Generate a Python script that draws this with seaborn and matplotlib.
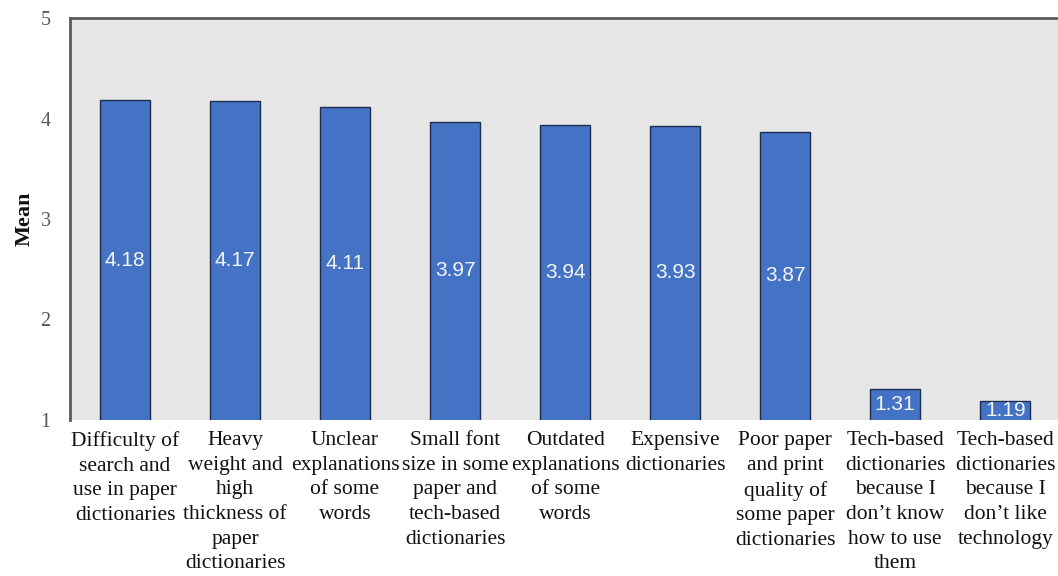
import matplotlib
matplotlib.use("Agg")
import matplotlib.pyplot as plt
import seaborn as sns
import pandas as pd

# Problems reported with dictionaries: category labels and mean ratings
categories = [
    "Difficulty of\nsearch and\nuse in paper\ndictionaries",
    "Heavy\nweight and\nhigh\nthickness of\npaper\ndictionaries",
    "Unclear\nexplanations\nof some\nwords",
    "Small font\nsize in some\npaper and\ntech-based\ndictionaries",
    "Outdated\nexplanations\nof some\nwords",
    "Expensive\ndictionaries",
    "Poor paper\nand print\nquality of\nsome paper\ndictionaries",
    "Tech-based\ndictionaries\nbecause I\ndon\u2019t know\nhow to use\nthem",
    "Tech-based\ndictionaries\nbecause I\ndon\u2019t like\ntechnology",
]
means = [4.18, 4.17, 4.11, 3.97, 3.94, 3.93, 3.87, 1.31, 1.19]
y_ticks = [1, 2, 3, 4, 5]

df = pd.DataFrame({"category": categories, "mean": means})

sns.set_theme(style="white")
serif = ["Liberation Serif", "DejaVu Serif"]

fig = plt.figure(figsize=(10.58, 5.76), dpi=100)
ax = fig.add_axes([70 / 1058, 1 - 420 / 576, 988 / 1058, 402 / 576])
ax.set_facecolor("#e7e6e6")

sns.barplot(data=df, x="category", y="mean", color="#4472c4", saturation=1,
            width=0.45, edgecolor="#1f2d4d", linewidth=1.0, ax=ax)

ax.set_ylim(1, 5)
ax.set_xlim(-0.5, len(categories) - 0.5 - 0.02)
ax.set_yticks(y_ticks)
ax.set_yticklabels([str(t) for t in y_ticks], family=serif, fontsize=14.5,
                   color="#595959")
ax.tick_params(axis="y", length=0, pad=14)
ax.tick_params(axis="x", length=0, pad=8)
ax.set_xticks(range(len(categories)))
ax.set_xticklabels(categories, family=serif, fontsize=15.5, color="#111111",
                   linespacing=1.4, va="top", ha="center")

ax.set_xlabel("")
ax.set_ylabel("Mean", family=serif, fontsize=16, fontweight="bold",
              color="#111111", labelpad=4)

for side in ["right", "bottom"]:
    ax.spines[side].set_visible(False)
for side in ["top", "left"]:
    ax.spines[side].set_visible(True)
    ax.spines[side].set_color("#5a5a5a")
    ax.spines[side].set_linewidth(2)

# Value labels centred in the visible part of each bar
for i, v in enumerate(means):
    ax.text(i, (1 + v) / 2, f"{v:.2f}", ha="center", va="center",
            color="#f4f4f4", fontsize=15, family=["Liberation Sans", "DejaVu Sans"])

fig.savefig("out.png", dpi=100)
